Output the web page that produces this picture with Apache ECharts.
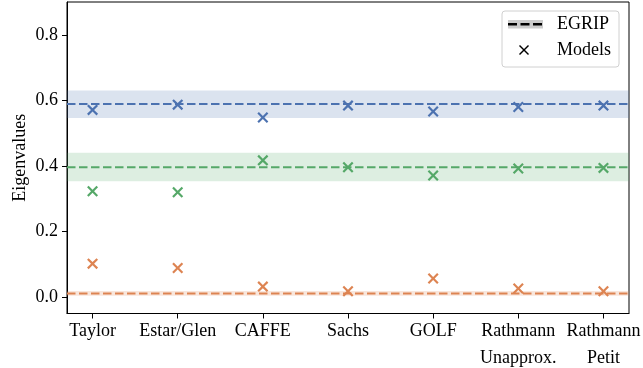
<!DOCTYPE html>
<html>
<head>
<meta charset="utf-8">
<script src="https://cdn.jsdelivr.net/npm/echarts@6/dist/echarts.min.js"></script>
<style>
  html, body { margin: 0; padding: 0; background: #fff; }
  #chart { width: 643px; height: 368px; }
</style>
</head>
<body>
<div id="chart"></div>
<script>
// Model names along the x axis
const categories = ['Taylor', 'Estar/Glen', 'CAFFE', 'Sachs', 'GOLF', 'Rathmann\nUnapprox.', 'Rathmann\nPetit'];

// Eigenvalues predicted by each model (largest, middle, smallest)
const modelE1 = [0.571, 0.587, 0.548, 0.584, 0.566, 0.580, 0.584];
const modelE2 = [0.323, 0.320, 0.417, 0.396, 0.371, 0.392, 0.394];
const modelE3 = [0.102, 0.089, 0.032, 0.018, 0.057, 0.026, 0.018];

// EGRIP reference eigenvalues and their spread
const egripMean = [0.589, 0.396, 0.011];
const egripLow  = [0.546, 0.353, 0.004];
const egripHigh = [0.630, 0.440, 0.019];

// Y tick values
const yTicks = [0.0, 0.2, 0.4, 0.6, 0.8];

const colors = ['#4C72B0', '#55A868', '#DD8452'];
const bandColors = ['rgba(76,114,176,0.2)', 'rgba(85,168,104,0.2)', 'rgba(221,132,82,0.2)'];
const FONT = 'Liberation Serif';
const FS = 18;

// "x" marker drawn as a polygon
const X_PATH = 'path://M0,14L14,0L50,36L86,0L100,14L64,50L100,86L86,100L50,64L14,100L0,86L36,50Z';

const xIdx = categories.map((_, i) => i);
const xMin = -0.3, xMax = categories.length - 1 + 0.3;

const series = [];
const modelSets = [modelE1, modelE2, modelE3];
for (let k = 0; k < 3; k++) {
  // shaded spread band
  series.push({
    type: 'line', data: [], z: 1, silent: true,
    markArea: {
      silent: true,
      itemStyle: { color: bandColors[k] },
      data: [[{ yAxis: egripLow[k] }, { yAxis: egripHigh[k] }]]
    }
  });
  // dashed EGRIP line
  series.push({
    type: 'line', z: 2, silent: true, showSymbol: false, symbol: 'none',
    data: [[xMin, egripMean[k]], [xMax, egripMean[k]]],
    lineStyle: { color: colors[k], width: 2, type: [8.5, 3.5] }
  });
  // model markers
  series.push({
    type: 'scatter', z: 3, silent: true,
    symbol: X_PATH, symbolSize: 11,
    itemStyle: { color: colors[k], opacity: 1 },
    data: modelSets[k].map((v, i) => [xIdx[i], v])
  });
}

const chart = echarts.init(document.getElementById('chart'), null, { renderer: 'canvas' });
chart.setOption({
  animation: false,
  backgroundColor: '#fff',
  grid: {
    left: 67, right: 14, top: 2, bottom: 54.5,
    outerBoundsMode: 'none', containLabel: false,
    show: true, borderColor: '#000', borderWidth: 1
  },
  xAxis: {
    type: 'value', min: xMin, max: xMax,
    splitLine: { show: false },
    axisLine: { show: true, onZero: false, lineStyle: { color: '#000', width: 1 } },
    axisTick: { show: true, length: 5, lineStyle: { color: '#000' }, customValues: xIdx },
    axisLabel: {
      customValues: xIdx, hideOverlap: false,
      color: '#000', fontFamily: FONT, fontSize: FS, margin: 4, lineHeight: 27,
      formatter: v => categories[Math.round(v)]
    }
  },
  yAxis: {
    type: 'value', min: -0.05, max: 0.9,
    name: 'Eigenvalues', nameLocation: 'middle', nameGap: 38, nameMoveOverlap: false,
    nameTextStyle: { color: '#000', fontFamily: FONT, fontSize: FS },
    splitLine: { show: false },
    axisLine: { show: true, onZero: false, lineStyle: { color: '#000', width: 1 } },
    axisTick: { show: true, length: 5, lineStyle: { color: '#000' }, customValues: yTicks },
    axisLabel: {
      customValues: yTicks,
      color: '#000', fontFamily: FONT, fontSize: FS, margin: 9,
      formatter: v => v.toFixed(1)
    }
  },
  series: series,
  graphic: [
    // legend frame
    { type: 'rect', shape: { x: 502, y: 11, width: 117, height: 56, r: 3 },
      style: { fill: '#fff', stroke: '#d0d0d0', lineWidth: 1 }, z: 10 },
    // EGRIP handle: grey band with black dashed line
    { type: 'rect', shape: { x: 508, y: 20, width: 35, height: 8.5 },
      style: { fill: '#cccccc' }, z: 11 },
    { type: 'line', shape: { x1: 508, y1: 24.2, x2: 543, y2: 24.2 },
      style: { stroke: '#000', lineWidth: 2.4, lineDash: [9, 3.5] }, z: 12 },
    { type: 'text', x: 557, y: 24, z: 12,
      style: { text: 'EGRIP', fill: '#000', font: FS + 'px "' + FONT + '"', verticalAlign: 'middle' } },
    // Models handle: black x
    { type: 'line', z: 12, shape: { x1: 519.5, y1: 45.5, x2: 528.5, y2: 54.5 },
      style: { stroke: '#000', lineWidth: 1.4 } },
    { type: 'line', z: 12, shape: { x1: 528.5, y1: 45.5, x2: 519.5, y2: 54.5 },
      style: { stroke: '#000', lineWidth: 1.4 } },
    { type: 'text', x: 557, y: 50, z: 12,
      style: { text: 'Models', fill: '#000', font: FS + 'px "' + FONT + '"', verticalAlign: 'middle' } }
  ]
});
</script>
</body>
</html>
